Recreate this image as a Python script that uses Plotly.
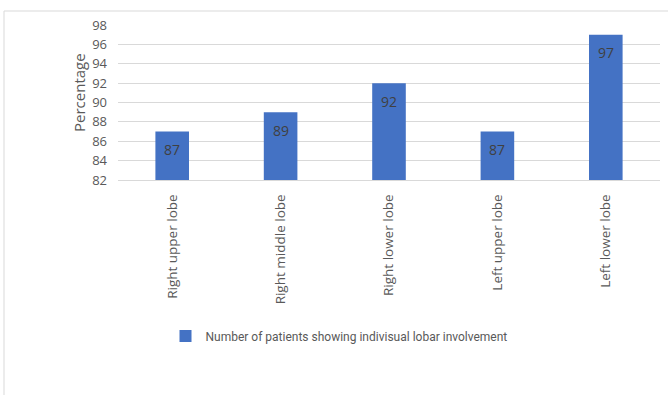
import plotly.graph_objects as go

categories = ["Right upper lobe", "Right middle lobe", "Right lower lobe", "Left upper lobe", "Left lower lobe"]
values = [87, 89, 92, 87, 97]
series_name = "Number of patients showing indivisual lobar involvement"
y_ticks = [82, 84, 86, 88, 90, 92, 94, 96, 98]
y_title = "Percentage"

W, H = 668, 395
L, R, T, B = 118, 8, 25, 215
pw, ph = W - L - R, H - T - B

fig = go.Figure()
fig.add_trace(go.Bar(
    x=categories, y=values, name=series_name,
    marker=dict(color="#4472C4", line=dict(width=0)),
    width=0.31,
    showlegend=True,
))
for c, v in zip(categories, values):
    fig.add_annotation(x=c, y=v, text=str(v), showarrow=False, yanchor="middle", yshift=-18,
                       font=dict(family="Open Sans", size=14, color="#404040"))
fig.add_annotation(xref="paper", yref="paper", x=(79 - L) / pw, y=(180 - 93) / ph,
                   text=y_title, textangle=-90, showarrow=False,
                   xanchor="center", yanchor="middle",
                   font=dict(family="Open Sans", size=15, color="#595959"))
fig.update_layout(
    width=W, height=H,
    margin=dict(l=L, r=R, t=T, b=B, pad=0),
    paper_bgcolor="white", plot_bgcolor="white",
    font=dict(family="Open Sans", color="#595959"),
    bargap=0.69,
    showlegend=True,
    legend=dict(orientation="h", x=(339 - L) / pw, xanchor="center", y=-(336 - 180) / ph, yanchor="middle",
                font=dict(family="Roboto", size=12, color="#595959"),
                itemwidth=30),
    yaxis=dict(range=[82, 98], tickvals=y_ticks, showgrid=True, gridcolor="#d9d9d9", gridwidth=1,
               zeroline=False, showline=False, ticks="", ticklabelstandoff=10,
               tickfont=dict(size=13, color="#595959")),
    xaxis=dict(showline=True, linecolor="#d9d9d9", tickangle=-90, ticks="", ticklabelstandoff=8,
               tickfont=dict(size=13.5, color="#595959")),
    shapes=[dict(type="rect", xref="paper", yref="paper",
                 x0=(4 - L) / pw, x1=(W + 5 - L) / pw,
                 y0=-(H + 5 - T - ph) / ph, y1=1 + (T - 11) / ph,
                 line=dict(color="#d9d9d9", width=1), layer="below")],
)
fig.write_html("out.html")
